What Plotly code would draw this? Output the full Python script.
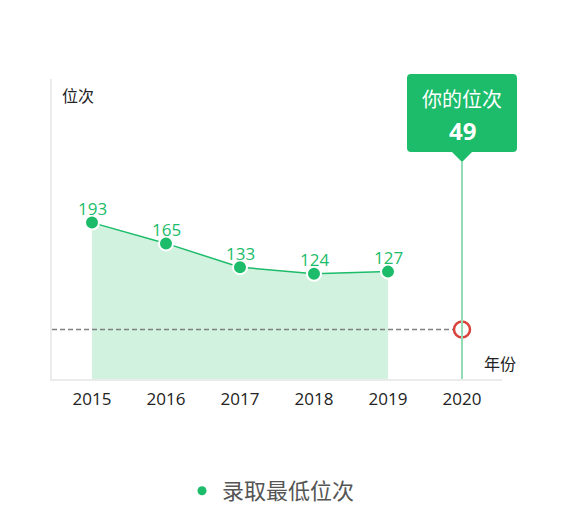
import plotly.graph_objects as go

years = ["2015", "2016", "2017", "2018", "2019", "2020"]
hist_years = ["2015", "2016", "2017", "2018", "2019"]
min_rank = [193, 165, 133, 124, 127]
my_rank = 49
my_year = "2020"
series_name = "录取最低位次"
box_title = "你的位次"
y_title = "位次"
x_title = "年份"

GREEN = "#1cbc6a"
FILL = "#d2f2e0"
FONT = "Open Sans, Noto Sans CJK SC, sans-serif"

OFF = 8  # page body margin
W, H = 568, 531
# plot area in page pixels: x 52..502, y 79..379
PX0, PX1, PY0, PY1 = 52, 502, 79, 379
ML, MT = PX0 - OFF, PY0 - OFF
MR, MB = W - (PX1 - OFF), H - (PY1 - OFF)
PW, PH = PX1 - PX0, PY1 - PY0
x_range = [-0.5405, len(years) - 1 + 0.5405]
y_range = [-17.6, 386.4]

def xp(px):
    return (px - PX0) / PW

def yp(py):
    return (PY1 - py) / PH

def idx_to_paper(i):
    return (i - x_range[0]) / (x_range[1] - x_range[0])

fig = go.Figure()

fig.add_trace(go.Scatter(x=hist_years, y=[y_range[0]] * len(hist_years), mode="lines",
                         line=dict(width=0), showlegend=False, hoverinfo="skip"))
fig.add_trace(go.Scatter(x=hist_years, y=min_rank, mode="lines+markers", fill="tonexty",
                         fillcolor=FILL, line=dict(color=GREEN, width=1.5),
                         marker=dict(size=14, color=GREEN, line=dict(color="white", width=2)),
                         showlegend=False))
fig.add_trace(go.Scatter(x=[None], y=[None], mode="markers", name=series_name,
                         marker=dict(size=9, color=GREEN)))

i_my = years.index(my_year)
fig.add_shape(type="line", xref="paper", yref="y", x0=0, x1=idx_to_paper(i_my) - 9 / PW,
              y0=my_rank, y1=my_rank, line=dict(color="#808080", width=1.4, dash="5px,3px"))

cx = idx_to_paper(i_my)
tip_y = yp(162)
fig.add_shape(type="line", xref="paper", yref="paper", x0=cx, x1=cx, y0=0, y1=tip_y,
              line=dict(color="#92ddb5", width=2))

bx0, bx1 = cx - 55 / PW, cx + 55 / PW
by0, by1 = yp(152), yp(74)
rx, ry = 4 / PW, 4 / PH
tw = 10 / PW
path = (f"M {bx0+rx},{by1} L {bx1-rx},{by1} Q {bx1},{by1} {bx1},{by1-ry} "
        f"L {bx1},{by0+ry} Q {bx1},{by0} {bx1-rx},{by0} "
        f"L {cx+tw},{by0} L {cx},{tip_y} L {cx-tw},{by0} "
        f"L {bx0+rx},{by0} Q {bx0},{by0} {bx0},{by0+ry} "
        f"L {bx0},{by1-ry} Q {bx0},{by1} {bx0+rx},{by1} Z")
fig.add_shape(type="path", xref="paper", yref="paper", path=path,
              fillcolor=GREEN, line=dict(width=0))

fig.add_trace(go.Scatter(x=[my_year], y=[my_rank], mode="markers", showlegend=False,
                         marker=dict(size=16, color="white", line=dict(color="#d9423b", width=2.5))))

annotations = []
for i, v in enumerate(min_rank):
    annotations.append(dict(x=i, y=v, xref="x", yref="y", text=str(v), showarrow=False,
                            xanchor="center", yanchor="middle", yshift=14,
                            font=dict(size=17, color=GREEN, family=FONT)))
annotations.append(dict(x=cx, y=yp(100), xref="paper", yref="paper", text=box_title,
                        showarrow=False, xanchor="center", yanchor="middle",
                        font=dict(size=20, color="white", family=FONT)))
annotations.append(dict(x=cx, y=yp(130), xref="paper", yref="paper", text=f"<b>{my_rank}</b>",
                        showarrow=False, xanchor="center", yanchor="middle",
                        font=dict(size=24, color="white", family=FONT)))
annotations.append(dict(x=xp(78), y=yp(96), xref="paper", yref="paper", text=y_title,
                        showarrow=False, xanchor="center", yanchor="middle",
                        font=dict(size=16, color="#222", family=FONT)))
annotations.append(dict(x=xp(500), y=yp(364), xref="paper", yref="paper", text=x_title,
                        showarrow=False, xanchor="center", yanchor="middle",
                        font=dict(size=16, color="#222", family=FONT)))

fig.update_layout(
    width=W, height=H, margin=dict(l=ML, r=MR, t=MT, b=MB),
    paper_bgcolor="white", plot_bgcolor="white",
    font=dict(family=FONT),
    annotations=annotations,
    showlegend=True,
    legend=dict(orientation="h", x=xp(271), xanchor="center", y=yp(491), yanchor="middle",
                font=dict(size=22, color="#555", family=FONT)),
    xaxis=dict(type="category", categoryorder="array", categoryarray=years, range=x_range,
               showgrid=False, zeroline=False, showline=True, linecolor="#ebebeb", linewidth=2,
               ticks="", tickfont=dict(size=17, color="#222", family=FONT), ticklabelstandoff=4),
    yaxis=dict(range=y_range, showgrid=False, zeroline=False, showline=True,
               linecolor="#ebebeb", linewidth=2, showticklabels=False, ticks=""),
)

fig.write_html("out.html")
